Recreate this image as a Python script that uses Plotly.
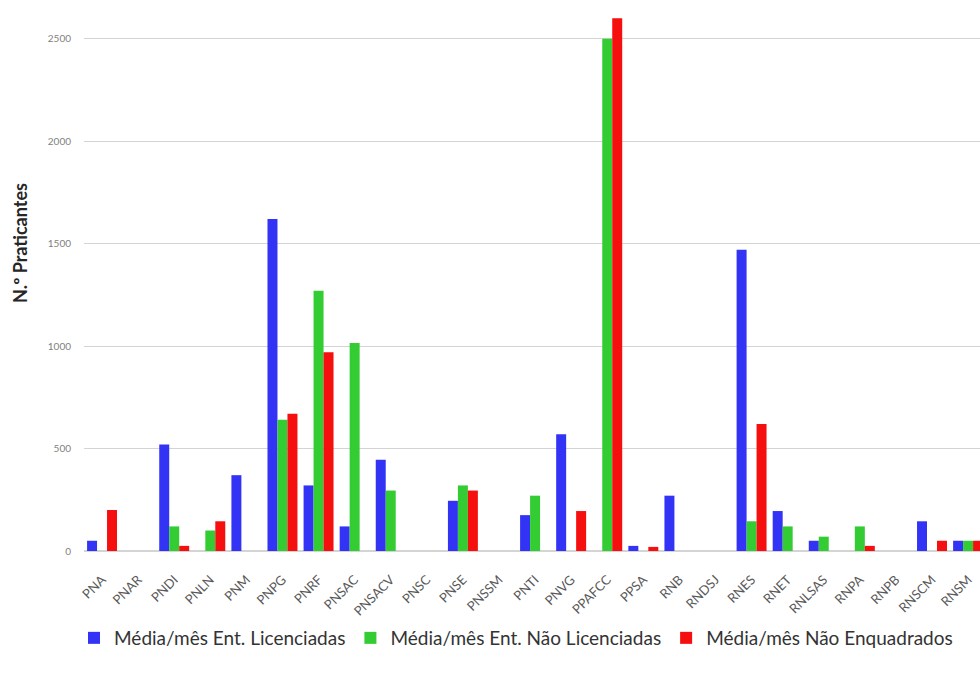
import plotly.graph_objects as go

categories = ["PNA", "PNAR", "PNDI", "PNLN", "PNM", "PNPG", "PNRF", "PNSAC", "PNSACV", "PNSC",
              "PNSE", "PNSSM", "PNTI", "PNVG", "PPAFCC", "PPSA", "RNB", "RNDSJ", "RNES", "RNET",
              "RNLSAS", "RNPA", "RNPB", "RNSCM", "RNSM"]
licenciadas = [50, 0, 520, 0, 370, 1620, 320, 120, 445, 0,
               245, 0, 175, 570, 0, 25, 270, 0, 1470, 195,
               50, 0, 0, 145, 50]
nao_licenciadas = [0, 0, 120, 100, 0, 640, 1270, 1015, 295, 0,
                   320, 0, 270, 0, 2500, 0, 0, 0, 145, 120,
                   70, 120, 0, 0, 50]
nao_enquadrados = [200, 0, 25, 145, 0, 670, 970, 0, 0, 0,
                   295, 0, 0, 195, 2600, 20, 0, 0, 620, 0,
                   0, 25, 0, 50, 50]
series_names = ["Média/mês Ent. Licenciadas", "Média/mês Ent. Não Licenciadas", "Média/mês Não Enquadrados"]
y_ticks = [0, 500, 1000, 1500, 2000, 2500]

colors = ["#3333F5", "#33CC33", "#F50F0F"]

L, R, T, B = 84, 0, 8, 124
W, H = 980, 675
PW, PH = W - L - R, H - T - B

fig = go.Figure()
for name, vals, c in zip(series_names, [licenciadas, nao_licenciadas, nao_enquadrados], colors):
    fig.add_trace(go.Bar(x=categories, y=vals, name=name, marker=dict(color=c, line=dict(width=0))))

fig.update_layout(
    width=W, height=H,
    margin=dict(l=L, r=R, t=T, b=B, autoexpand=False),
    paper_bgcolor="white", plot_bgcolor="white",
    barmode="group", bargap=0.17, bargroupgap=0,
    font=dict(family="Lato, sans-serif", color="#404040"),
    showlegend=True,
    legend=dict(orientation="h", x=(516 - L) / PW, xanchor="center",
                y=-(638 - (H - B)) / PH, yanchor="middle",
                font=dict(size=19, color="#333333"), itemwidth=30,
                tracegroupgap=0),
    xaxis=dict(range=[-0.5, 24.33], tickangle=-45, tickfont=dict(size=13, color="#595959"),
               showgrid=False, showline=False, ticks="outside", ticklen=15,
               tickcolor="rgba(0,0,0,0)", automargin=False),
    yaxis=dict(range=[0, 2650], tickvals=y_ticks, tickfont=dict(size=10, color="#7f7f7f"),
               showgrid=True, gridcolor="#d4d4d4", gridwidth=1, zeroline=True,
               zerolinecolor="#d4d4d4", showline=False, ticks="", ticklabelstandoff=12,
               automargin=False),
    annotations=[dict(text="<b>N.º Praticantes</b>",
                      x=(20 - L) / PW, y=(H - B - 243) / PH,
                      xref="paper", yref="paper", xanchor="center", yanchor="middle",
                      showarrow=False, textangle=-90, font=dict(size=18, color="#262626"))],
)
fig.write_html("out.html", config={"displayModeBar": False},
               post_script="document.body.style.margin='0';")
